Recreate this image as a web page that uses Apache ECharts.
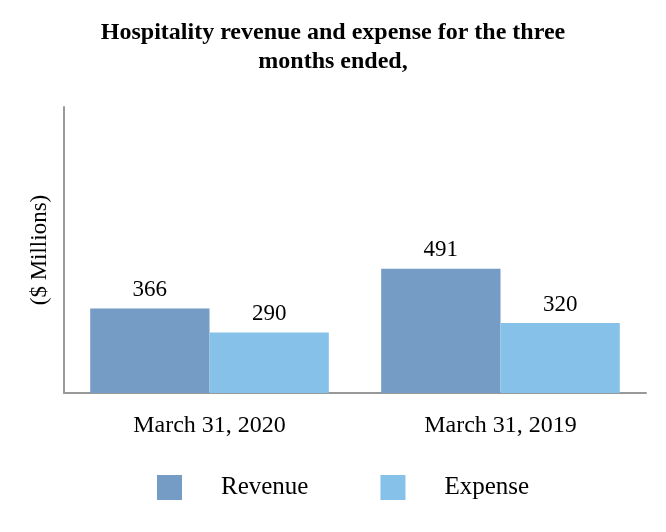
<!DOCTYPE html>
<html><head><meta charset="utf-8">
<script src="https://cdn.jsdelivr.net/npm/echarts@6/dist/echarts.min.js"></script>
<style>html,body{margin:0;padding:0;background:#fff}#c{width:666px;height:532px}</style>
</head><body><div id="c"></div>
<script>
const categories = ['March 31, 2020', 'March 31, 2019'];
const revenue = [366, 491];
const expense = [290, 320];
const seriesNames = ['Revenue', 'Expense'];
const titleText = 'Hospitality revenue and expense for the three\nmonths ended,';
const yName = '($ Millions)';

const font = 'Liberation Serif, Times New Roman, serif';
const chart = echarts.init(document.getElementById('c'), null, {renderer: 'canvas'});
chart.setOption({
  backgroundColor: '#fff',
  animation: false,
  textStyle: {fontFamily: font},
  title: {
    text: titleText, left: 'center', top: 13,
    textStyle: {fontFamily: font, fontSize: 24, fontWeight: 'bold', color: '#000', lineHeight: 29}
  },
  legend: {
    bottom: 27, left: 152, itemWidth: 25, itemHeight: 25, itemGap: 72,
    icon: 'rect',
    textStyle: {fontFamily: font, fontSize: 25, color: '#000', padding: [0, 0, 0, 34]},
    data: seriesNames
  },
  grid: {left: 64, right: 20, top: 107, bottom: 139},
  xAxis: {
    type: 'category', data: categories,
    axisLine: {lineStyle: {color: '#999', width: 2}},
    axisTick: {show: false},
    axisLabel: {fontFamily: font, fontSize: 24, color: '#000', margin: 21}
  },
  yAxis: {
    type: 'value', min: 100, max: 1000, interval: 100,
    name: yName, nameLocation: 'middle', nameGap: 13, nameRotate: 90,
    nameTextStyle: {fontFamily: font, fontSize: 23, color: '#000'},
    axisLine: {show: true, lineStyle: {color: '#999', width: 2}},
    axisTick: {show: false}, axisLabel: {show: false}, splitLine: {show: false}
  },
  series: [
    {name: seriesNames[0], type: 'bar', data: revenue, barGap: '0%', barCategoryGap: '18%',
     itemStyle: {color: '#759CC5'},
     label: {show: true, position: 'top', distance: 7, fontFamily: font, fontSize: 23, color: '#000'}},
    {name: seriesNames[1], type: 'bar', data: expense,
     itemStyle: {color: '#86C1E9'},
     label: {show: true, position: 'top', distance: 7, fontFamily: font, fontSize: 23, color: '#000'}}
  ]
});
</script></body></html>
